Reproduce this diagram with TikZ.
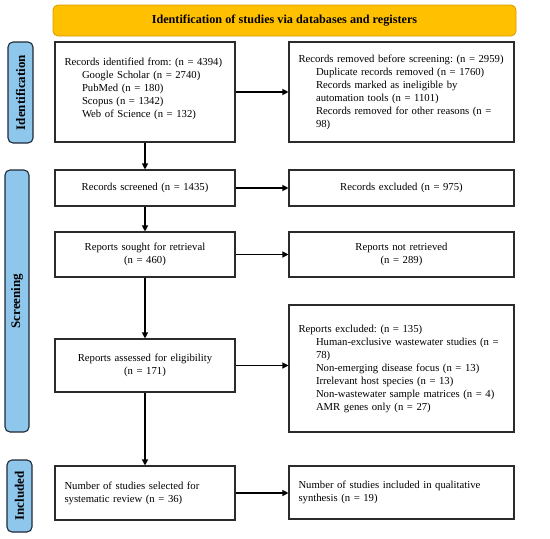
\documentclass[tikz,border=0pt]{standalone}
\usepackage{fontspec}
\setmainfont{Liberation Serif}
\usetikzlibrary{arrows.meta}
\frenchspacing
\definecolor{banner}{HTML}{FFC000}
\definecolor{bannerline}{HTML}{D99A00}
\definecolor{side}{HTML}{8EC6EC}
\definecolor{sideline}{HTML}{1F2A36}
\definecolor{boxline}{HTML}{2B2B2B}
\tikzset{
  x=1pt, y=1pt,
  every node/.style={font=\fontsize{10.7}{13}\selectfont},
  box/.style={draw=boxline, line width=1.1pt, rectangle, inner xsep=9.5pt, inner ysep=2pt},
  lbox/.style={box, align=left, text width=#1-19pt, minimum height=0pt},
  cbox/.style={box, align=center, text width=#1-19pt},
  side/.style={draw=sideline, fill=side, line width=1.1pt, rounded corners=5pt, rotate=90, font=\fontsize{13}{15}\selectfont\bfseries, inner sep=0pt},
  arr/.style={-{Triangle[length=6pt,width=6pt]}, line width=1.2pt, draw=black},
}
\newcommand{\ind}{\hspace*{17.5pt}}
\begin{document}
\frenchspacing
\begin{tikzpicture}
\useasboundingbox (0,0) rectangle (550,-539);
\node[draw=bannerline, fill=banner, line width=0.8pt, rounded corners=5pt, minimum width=463pt, minimum height=31pt, font=\fontsize{12.2}{14}\selectfont\bfseries] (ban) at (284.5,-20.5) {Identification of studies via databases and registers};

\node[side, minimum width=101pt, minimum height=25pt] (sid) at (20.5,-92.5) {Identification};
\node[side, minimum width=262pt, minimum height=24pt] (ssc) at (17,-301) {Screening};
\node[side, minimum width=72pt, minimum height=25pt] (sin) at (19.5,-496) {Included};

\node[lbox=180pt, minimum height=100pt] (b1) at (145,-92) {Records identified from: (n = 4394)\\
\ind Google Scholar (n = 2740)\\
\ind PubMed (n = 180)\\
\ind Scopus (n = 1342)\\
\ind Web of Science (n = 132)\\[-5pt]\mbox{}};
\node[lbox=225pt, minimum height=100pt] (b2) at (401.5,-92) {Records removed before screening: (n = 2959)\\
\ind Duplicate records removed (n = 1760)\\
\ind Records marked as ineligible by\\
\ind automation tools (n = 1101)\\
\ind Records removed for other reasons (n =\\
\ind 98)};
\node[cbox=180pt, minimum height=36pt] (b3) at (145,-188) {Records screened (n = 1435)};
\node[cbox=225pt, minimum height=36pt] (b4) at (401.5,-188) {Records excluded (n = 975)};
\node[cbox=180pt, minimum height=45pt] (b5) at (145,-254.5) {Reports sought for retrieval\\(n = 460)};
\node[cbox=225pt, minimum height=45pt] (b6) at (401.5,-254.5) {Reports not retrieved\\(n = 289)};
\node[cbox=180pt, minimum height=53pt] (b7) at (145,-365.5) {Reports assessed for eligibility\\(n = 171)};
\node[lbox=225pt, minimum height=127pt] (b8) at (401.5,-368.5) {Reports excluded: (n = 135)\\
\ind Human-exclusive wastewater studies (n =\\
\ind 78)\\
\ind Non-emerging disease focus (n = 13)\\
\ind Irrelevant host species (n = 13)\\
\ind Non-wastewater sample matrices (n = 4)\\
\ind AMR genes only (n = 27)};
\node[lbox=180pt, minimum height=54pt] (b9) at (145,-493) {Number of studies selected for\\systematic review (n = 36)};
\node[lbox=225pt, minimum height=53pt] (b10) at (401.5,-492.5) {Number of studies included in qualitative\\synthesis (n = 19)};

\draw[arr] (b1.east) -- (b1.east -| b2.west);
\draw[arr] (b3.east) -- (b3.east -| b4.west);
\draw[arr] (b5.east) -- (b5.east -| b6.west);
\draw[arr] (b7.east) -- (b7.east -| b8.west);
\draw[arr] (b9.east) -- (b9.east -| b10.west);
\draw[arr] (b1.south) -- (b3.north);
\draw[arr] (b3.south) -- (b5.north);
\draw[arr] (b5.south) -- (b7.north);
\draw[arr] (b7.south) -- (b9.north);
\end{tikzpicture}
\end{document}
